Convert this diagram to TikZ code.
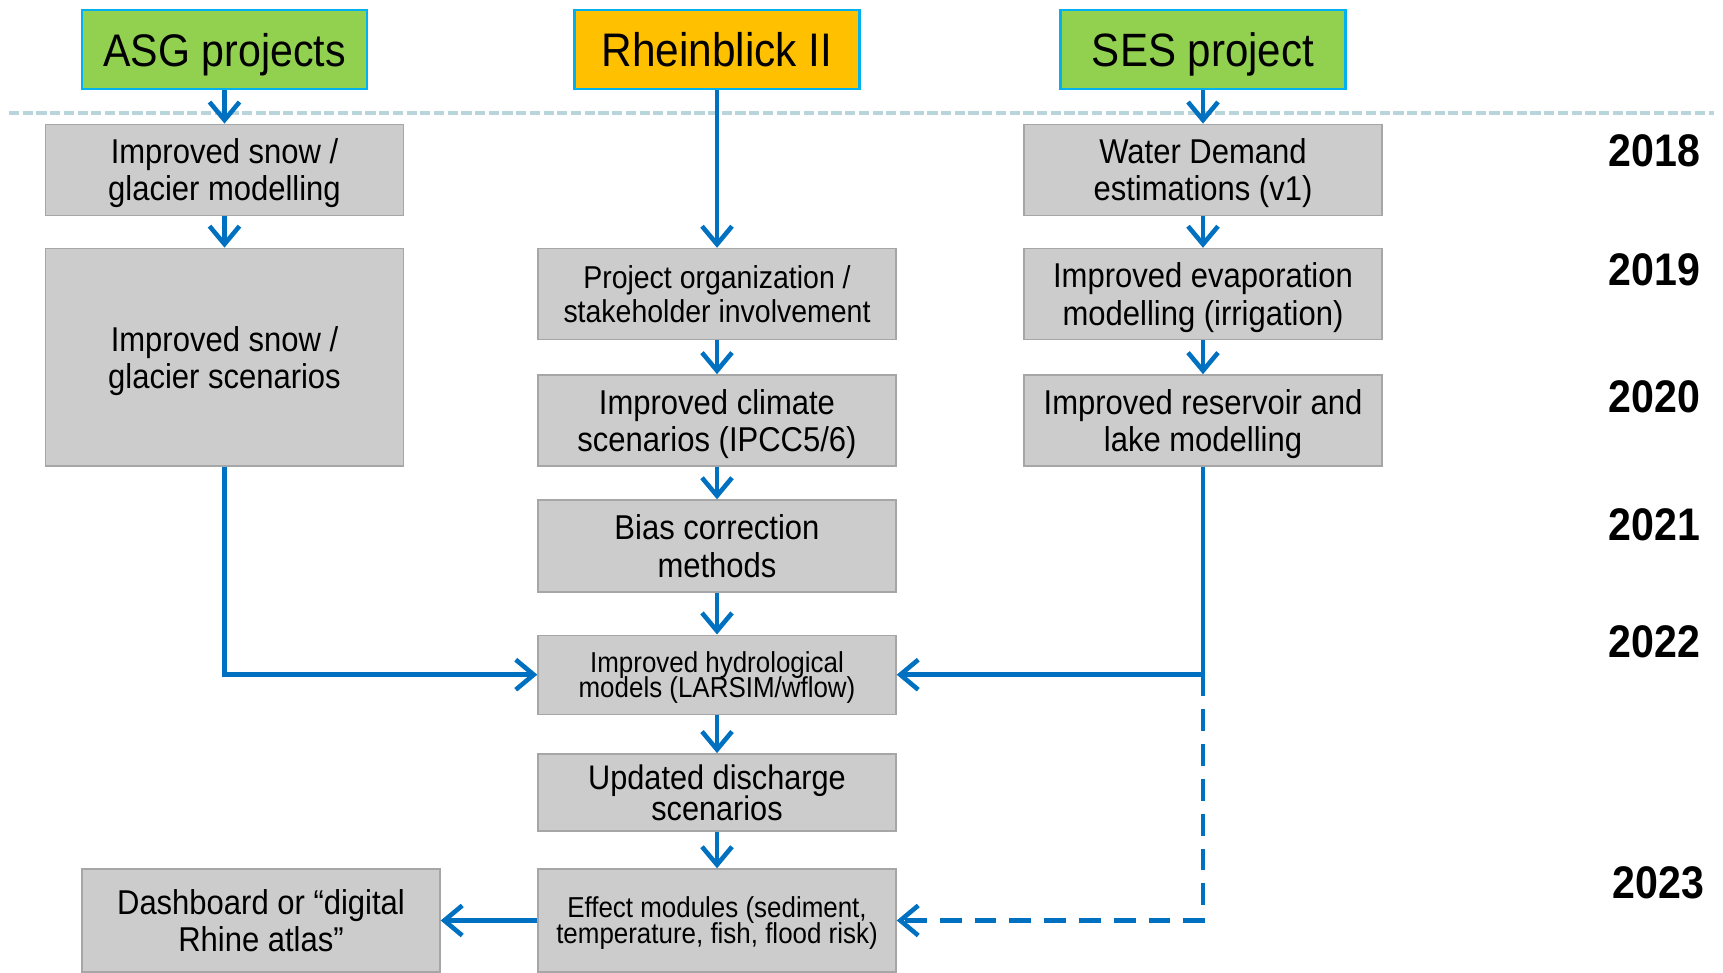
\documentclass[tikz,border=0pt]{standalone}
\usepackage{fontspec}
\setmainfont{Liberation Sans}[FakeStretch=0.9]
\usepackage{tikz}
\usepackage{xcolor}
\usetikzlibrary{arrows.meta}

\definecolor{projgreen}{HTML}{92D050}
\definecolor{rbyellow}{HTML}{FFC000}
\definecolor{projedge}{HTML}{00B0F0}
\definecolor{taskgray}{HTML}{CCCCCC}
\definecolor{taskedge}{HTML}{A6A6A6}
\definecolor{flowblue}{HTML}{0070C0}
\definecolor{sepline}{HTML}{B7D5DA}

\newcommand{\tasksize}[2]{\fontsize{#1}{#2}\selectfont\lineskiplimit=-10pt\relax}

\begin{document}
\begin{tikzpicture}[
    proj/.style={draw=projedge, line width=0.7pt, minimum width=2.85cm, minimum height=0.79cm,
                 inner sep=0pt, text depth=0pt, font=\fontsize{13}{15}\selectfont},
    task/.style={draw=taskedge, line width=0.4pt, fill=taskgray, minimum width=3.58cm,
                 minimum height=0.91cm, inner sep=0pt, align=center, text depth=0pt,
                 font=\tasksize{9.8}{10.6}},
    flow/.style={draw=flowblue, line width=1.3pt, -{Straight Barb[length=1.8mm, width=3mm]}},
    yearlbl/.style={anchor=east, inner sep=0pt, font=\fontsize{13}{15}\selectfont\bfseries},
]

% Canvas
\clip (0, 0) rectangle (17.23, 9.72);

% Separator
\draw[sepline, line width=0.9pt, dash pattern=on 2.9pt off 1pt] (0.09, 8.59) -- (17.14, 8.59);

% Projects
\node[proj, fill=projgreen] (asg) at (2.245, 9.225) {ASG projects};
\node[proj, fill=rbyellow]  (rb)  at (7.17, 9.225)  {\fontsize{13.4}{15}\selectfont Rheinblick II};
\node[proj, fill=projgreen] (ses) at (12.03, 9.225) {\fontsize{13.3}{15}\selectfont SES project};

% ASG column
\node[task] (snowmod)  at (2.245, 8.022) {Improved snow /\\glacier modelling};
\node[task, minimum height=2.176cm] (snowscen) at (2.245, 6.148) {Improved snow /\\glacier scenarios};

% Rheinblick column
\node[task, font=\tasksize{9}{9.7}] (org) at (7.17, 6.78) {Project organization /\\stakeholder involvement};
\node[task] (climate) at (7.17, 5.516) {Improved climate\\scenarios (IPCC5/6)};
\node[task, minimum height=0.92cm] (bias) at (7.17, 4.26) {Bias correction\\methods};
\node[task, minimum height=0.79cm, font=\tasksize{8.2}{7.1}] (hydro) at (7.17, 2.973) {Improved hydrological\\models (LARSIM/wflow)};
\node[task, minimum height=0.77cm, font=\tasksize{9.7}{8.8}] (discharge) at (7.17, 1.797) {Updated discharge\\scenarios};
\node[task, minimum height=1.03cm, font=\tasksize{8.2}{7.4}] (effect) at (7.17, 0.515) {Effect modules (sediment,\\temperature, fish, flood risk)};
\node[task, minimum height=1.03cm] (dashb) at (2.61, 0.515) {Dashboard or “digital\\Rhine atlas”};

% SES column
\node[task] (demand)    at (12.03, 8.022) {Water Demand\\estimations (v1)};
\node[task] (evap)      at (12.03, 6.78)  {Improved evaporation\\modelling (irrigation)};
\node[task] (reservoir) at (12.03, 5.516) {Improved reservoir and\\lake modelling};

% Years
\node[yearlbl] (y18) at (17.01, 8.21)  {2018};
\node[yearlbl] (y19) at (17.01, 7.02)  {2019};
\node[yearlbl] (y20) at (17.01, 5.75)  {2020};
\node[yearlbl] (y21) at (17.01, 4.475) {2021};
\node[yearlbl] (y22) at (17.01, 3.302) {2022};
\node[yearlbl] (y23) at (17.05, 0.89)  {2023};

% Flows
\draw[flow] (asg) -- (snowmod);
\draw[flow] (snowmod) -- (snowscen);
\draw[flow] (rb) -- (org);
\draw[flow] (org) -- (climate);
\draw[flow] (climate) -- (bias);
\draw[flow] (bias) -- (hydro);
\draw[flow] (hydro) -- (discharge);
\draw[flow] (discharge) -- (effect);
\draw[flow] (ses) -- (demand);
\draw[flow] (demand) -- (evap);
\draw[flow] (evap) -- (reservoir);
\draw[flow] (snowscen.south) |- (hydro.west);
\draw[flow] (reservoir.south) |- (hydro.east);
\coordinate (split) at (reservoir.south |- hydro.east);
\draw[flow, dash pattern=on 6.2pt off 3.7pt] (split) |- (effect.east);
\draw[flow] (effect) -- (dashb);

\end{tikzpicture}
\end{document}
